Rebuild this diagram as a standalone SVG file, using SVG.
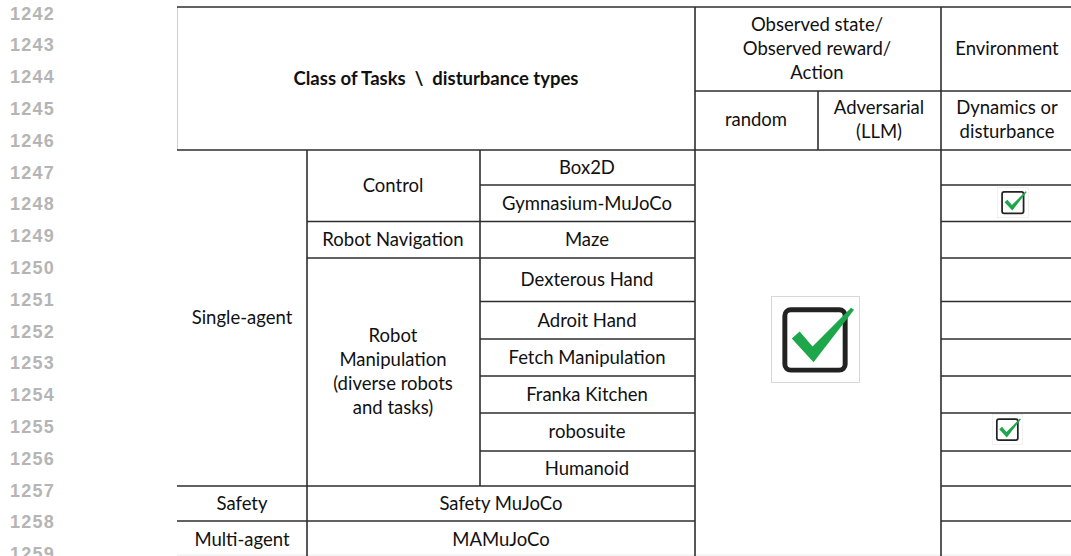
<svg xmlns="http://www.w3.org/2000/svg" xmlns:xlink="http://www.w3.org/1999/xlink" width="1071" height="556" viewBox="0 0 1071 556">
<style>
.ln{font-family:"Liberation Sans",Arial,sans-serif;font-size:18px;font-weight:bold;fill:#b5b5b5;letter-spacing:1.2px}
.t{font-family:Lato,"Liberation Sans",sans-serif;font-size:18.5px;fill:#111;text-anchor:middle}
.b{font-weight:bold}
.g line{stroke:#2e2e2e;stroke-width:1.6}
</style>
<defs>
<symbol id="chk" viewBox="0 0 90 88">
<rect x="0.5" y="0.5" width="89" height="87" fill="#fff" stroke="#d8d8d8" stroke-width="1"/>
<rect x="14" y="14" width="61" height="61" rx="6" fill="none" stroke="#222" stroke-width="5"/>
<polygon points="21,43 29,36 42,51 81,12 84,14 43,67" fill="#1ea64a"/>
</symbol>
</defs>
<rect width="1071" height="556" fill="#fff"/>
<g id="line-numbers">
<text class="ln" x="10" y="19.5">1242</text>
<text class="ln" x="10" y="51.3">1243</text>
<text class="ln" x="10" y="83.1">1244</text>
<text class="ln" x="10" y="114.9">1245</text>
<text class="ln" x="10" y="146.7">1246</text>
<text class="ln" x="10" y="178.5">1247</text>
<text class="ln" x="10" y="210.3">1248</text>
<text class="ln" x="10" y="242.1">1249</text>
<text class="ln" x="10" y="273.9">1250</text>
<text class="ln" x="10" y="305.7">1251</text>
<text class="ln" x="10" y="337.5">1252</text>
<text class="ln" x="10" y="369.3">1253</text>
<text class="ln" x="10" y="401.1">1254</text>
<text class="ln" x="10" y="432.9">1255</text>
<text class="ln" x="10" y="464.7">1256</text>
<text class="ln" x="10" y="496.5">1257</text>
<text class="ln" x="10" y="528.3">1258</text>
<text class="ln" x="10" y="560.1">1259</text>
</g>
<g id="grid" class="g">
<line x1="177.5" y1="7" x2="177.5" y2="150" style="stroke:#cfcfcf;stroke-width:1"/>
<line x1="177" y1="7" x2="1071" y2="7"/>
<line x1="695" y1="91" x2="1071" y2="91"/>
<line x1="177" y1="150" x2="1071" y2="150"/>
<line x1="480" y1="185" x2="695" y2="185"/>
<line x1="307" y1="221.5" x2="695" y2="221.5"/>
<line x1="307" y1="258" x2="695" y2="258"/>
<line x1="480" y1="301.5" x2="695" y2="301.5"/>
<line x1="480" y1="339" x2="695" y2="339"/>
<line x1="480" y1="376" x2="695" y2="376"/>
<line x1="480" y1="413" x2="695" y2="413"/>
<line x1="480" y1="451" x2="695" y2="451"/>
<line x1="177" y1="486" x2="695" y2="486"/>
<line x1="177" y1="521" x2="695" y2="521"/>
<line x1="941" y1="185" x2="1071" y2="185"/>
<line x1="941" y1="221.5" x2="1071" y2="221.5"/>
<line x1="941" y1="258" x2="1071" y2="258"/>
<line x1="941" y1="301.5" x2="1071" y2="301.5"/>
<line x1="941" y1="339" x2="1071" y2="339"/>
<line x1="941" y1="376" x2="1071" y2="376"/>
<line x1="941" y1="413" x2="1071" y2="413"/>
<line x1="941" y1="451" x2="1071" y2="451"/>
<line x1="941" y1="486" x2="1071" y2="486"/>
<line x1="941" y1="521" x2="1071" y2="521"/>
<line x1="177" y1="555" x2="1071" y2="555" style="stroke:#ececec;stroke-width:1"/>
<line x1="307" y1="150" x2="307" y2="556"/>
<line x1="480" y1="150" x2="480" y2="486"/>
<line x1="695" y1="7" x2="695" y2="556"/>
<line x1="818" y1="91" x2="818" y2="150"/>
<line x1="941" y1="7" x2="941" y2="556"/>
</g>
<g id="header">
<text class="t b" x="436" y="85">Class of Tasks &#160;\&#160; disturbance types</text>
<text class="t" x="817" y="31">Observed state/</text>
<text class="t" x="817" y="55">Observed reward/</text>
<text class="t" x="817" y="79">Action</text>
<text class="t" x="1007" y="55">Environment</text>
<text class="t" x="756" y="126">random</text>
<text class="t" x="879" y="114">Adversarial</text>
<text class="t" x="879" y="138">(LLM)</text>
<text class="t" x="1007" y="114">Dynamics or</text>
<text class="t" x="1007" y="138">disturbance</text>
</g>
<g id="classes">
<text class="t" x="242" y="324">Single-agent</text>
<text class="t" x="242" y="510">Safety</text>
<text class="t" x="242" y="546">Multi-agent</text>
<text class="t" x="393" y="192">Control</text>
<text class="t" x="393" y="246">Robot Navigation</text>
<text class="t" x="393" y="342">Robot</text>
<text class="t" x="393" y="366">Manipulation</text>
<text class="t" x="393" y="390">(diverse robots</text>
<text class="t" x="393" y="414">and tasks)</text>
</g>
<g id="envs">
<text class="t" x="587" y="174">Box2D</text>
<text class="t" x="587" y="210">Gymnasium-MuJoCo</text>
<text class="t" x="587" y="246">Maze</text>
<text class="t" x="587" y="286">Dexterous Hand</text>
<text class="t" x="587" y="327">Adroit Hand</text>
<text class="t" x="587" y="364">Fetch Manipulation</text>
<text class="t" x="587" y="401">Franka Kitchen</text>
<text class="t" x="587" y="438">robosuite</text>
<text class="t" x="587" y="475">Humanoid</text>
<text class="t" x="501" y="510">Safety MuJoCo</text>
<text class="t" x="501" y="546">MAMuJoCo</text>
</g>
<g id="checks">
<use xlink:href="#chk" x="771" y="296" width="89" height="87"/>
<use xlink:href="#chk" x="997" y="187" width="32" height="31"/>
<use xlink:href="#chk" x="992" y="413" width="31" height="33"/>
</g>
</svg>
